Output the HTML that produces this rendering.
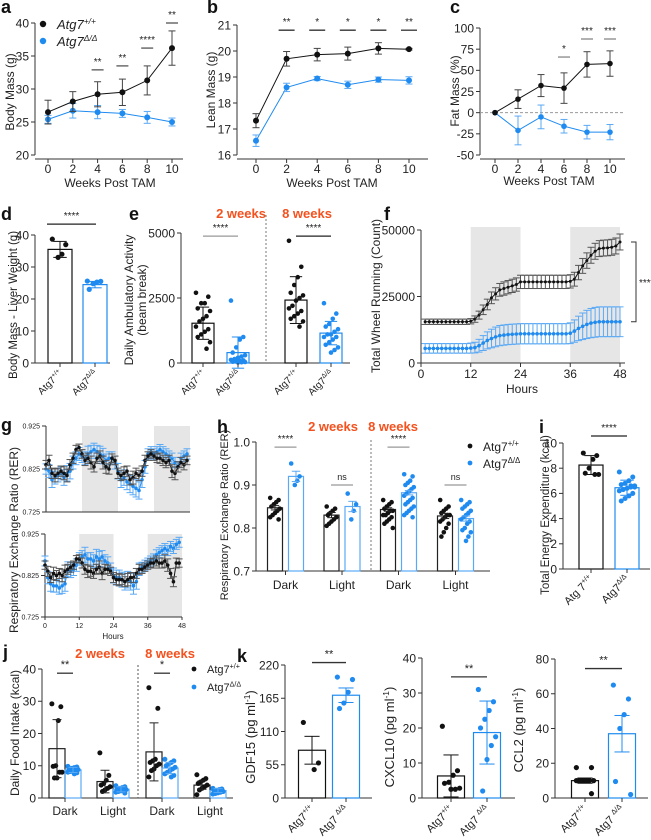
<!DOCTYPE html>
<html><head><meta charset="utf-8">
<style>
html,body{margin:0;padding:0;background:#fff;width:651px;height:840px;overflow:hidden}
svg{display:block;font-family:"Liberation Sans",Arial,sans-serif}
</style></head>
<body>
<svg id="fig" width="651" height="840" viewBox="0 0 651 840">
  <g font-weight="bold" font-size="18" fill="#111">
    <text x="1" y="13">a</text>
    <text x="207" y="13">b</text>
    <text x="450" y="13">c</text>
    <text x="1" y="220">d</text>
    <text x="129" y="220">e</text>
    <text x="384" y="220">f</text>
    <text x="1" y="431">g</text>
    <text x="217" y="433">h</text>
    <text x="539" y="433">i</text>
    <text x="3" y="658">j</text>
    <text x="237" y="662">k</text>
  </g>
  <g font-weight="bold" font-size="13" fill="#f4511e" text-anchor="middle">
    <text x="241" y="218">2 weeks</text>
    <text x="307" y="218">8 weeks</text>
    <text x="333" y="431">2 weeks</text>
    <text x="393" y="431">8 weeks</text>
    <text x="100" y="658">2 weeks</text>
    <text x="170" y="658">8 weeks</text>
  </g>
</svg>
<script>
// ===== DATA =====
const weeks = [0, 2, 4, 6, 8, 10];
const aWT = [26.5, 28.1, 29.2, 29.5, 31.3, 36.2];
const aWTerr = [1.8, 1.5, 1.9, 2.0, 2.2, 2.6];
const aKO = [25.4, 26.7, 26.5, 26.3, 25.7, 25.0];
const aKOerr = [0.6, 1.1, 1.0, 0.6, 0.9, 0.6];
const aSigWeeks = [4, 6, 8, 10];
const aSigLevel = [32.9, 33.5, 36.2, 40.0];
const aSigStars = ['**', '**', '****', '**'];
const aTicks = [20, 25, 30, 35, 40];
const bWT = [17.32, 19.7, 19.86, 19.9, 20.1, 20.07];
const bWTerr = [0.27, 0.28, 0.24, 0.25, 0.22, 0.03];
const bKO = [16.55, 18.6, 18.94, 18.7, 18.9, 18.87];
const bKOerr = [0.22, 0.16, 0.08, 0.14, 0.1, 0.14];
const bSigWeeks = [2, 4, 6, 8, 10];
const bSigStars = ['**', '*', '*', '*', '**'];
const bSigLevel = [20.8, 20.8, 20.8, 20.8, 20.8];
const bTicks = [16, 17, 18, 19, 20, 21];
const cWT = [0, 16, 32, 29, 57, 58];
const cWTerr = [0, 11, 13, 18, 15, 15];
const cKO = [0, -21, -5, -16, -23, -23];
const cKOerr = [0, 17, 14, 8, 8, 9];
const cSigWeeks = [6, 8, 10];
const cSigLevel = [65.7, 87, 87];
const cSigStars = ['*', '***', '***'];
const cTicks = [-50, -25, 0, 25, 50, 75, 100];
const dMeans = [35.5, 24.5];
const dErr = [2.5, 1.0];
const dDotsWT = [38.7, 37.0, 34.0, 33.0];
const dDotsKO = [25.6, 25.5, 25.3, 24.8, 23.0];
const dTicks = [0, 10, 20, 30, 40];
const eMeans = [1530, 400, 2420, 1150];
const eErr = [620, 600, 900, 450];
const eDotsWT2 = [2700, 2550, 2300, 2300, 2100, 2000, 1800, 1700, 1600, 1400, 1300, 1200, 1100, 1000, 800, 550];
const eDotsKO2 = [2400, 1000, 900, 600, 400, 300, 250, 200, 150, 120, 100, 80, 60, 50, 40, 30, 20];
const eDotsWT8 = [4700, 3700, 3300, 3000, 2700, 2600, 2500, 2400, 2200, 2100, 2000, 1900, 1800, 1700, 1600, 1400];
const eDotsKO8 = [2300, 1900, 1700, 1500, 1400, 1300, 1200, 1100, 1100, 1000, 1000, 900, 800, 700, 600, 500, 400];
const eTicks = [0, 2500, 5000];
const fHours = [1,2,3,4,5,6,7,8,9,10,11,12,13,14,15,16,17,18,19,20,21,22,23,24,25,26,27,28,29,30,31,32,33,34,35,36,37,38,39,40,41,42,43,44,45,46,47,48];
const fWT = [15500,15500,15500,15500,15500,15500,15500,15500,15500,15500,15500,15700,16500,18000,20000,22000,24500,26000,27500,28000,28500,29000,29500,30500,30500,30500,30500,30500,30500,30500,30500,30500,30500,30500,30500,30700,31500,34000,36500,38500,40500,42000,43000,43200,43300,43500,44000,45500];
const fWTerr = [1000,1000,1000,1000,1000,1000,1000,1000,1000,1000,1000,1000,1200,1500,1800,2000,2200,2300,2400,2500,2500,2500,2500,2500,2500,2500,2500,2500,2500,2500,2500,2500,2500,2500,2500,2500,2600,2700,2800,2900,3000,3000,3000,3000,3000,3000,3000,3000];
const fKO = [5500,5500,5500,5500,5500,5500,5500,5500,5500,5500,5500,5600,5800,6500,7500,8500,9200,9800,10300,10500,10700,10800,10900,11000,11000,11000,11000,11000,11000,11000,11000,11000,11000,11000,11000,11200,12000,13000,13800,14500,15000,15300,15500,15500,15500,15500,15500,15500];
const fKOerr = [1800,1800,1800,1800,1800,1800,1800,1800,1800,1800,1800,1900,2000,2400,2800,3200,3500,3700,3800,3800,3800,3800,3800,3800,3800,3800,3800,3800,3800,3800,3800,3800,3800,3800,3800,3900,4200,4600,5000,5300,5500,5600,5600,5600,5600,5600,5600,5600];
const fTicks = [0, 25000, 50000];
const fXTicks = [0, 12, 24, 36, 48];
const gHours = [0,1,2,3,4,5,6,7,8,9,10,11,12,13,14,15,16,17,18,19,20,21,22,23,24,25,26,27,28,29,30,31,32,33,34,35,36,37,38,39,40,41,42,43,44,45,46,47];
const gTopWT = [0.835,0.845,0.815,0.81,0.815,0.82,0.815,0.81,0.835,0.85,0.87,0.875,0.86,0.845,0.85,0.84,0.83,0.85,0.855,0.84,0.83,0.825,0.85,0.845,0.815,0.81,0.815,0.82,0.80,0.805,0.815,0.81,0.82,0.845,0.855,0.86,0.855,0.85,0.85,0.845,0.84,0.845,0.82,0.815,0.83,0.84,0.835,0.845];
const gTopKO = [0.825,0.82,0.80,0.805,0.81,0.815,0.805,0.815,0.82,0.84,0.85,0.86,0.855,0.85,0.86,0.865,0.87,0.865,0.86,0.855,0.845,0.85,0.85,0.84,0.82,0.80,0.805,0.795,0.79,0.785,0.78,0.775,0.80,0.83,0.86,0.865,0.86,0.865,0.87,0.865,0.86,0.855,0.85,0.84,0.83,0.85,0.855,0.86];
const gBotWT = [0.85,0.835,0.82,0.83,0.825,0.83,0.825,0.835,0.84,0.845,0.85,0.865,0.865,0.855,0.84,0.835,0.835,0.83,0.84,0.845,0.83,0.84,0.84,0.835,0.82,0.815,0.815,0.815,0.81,0.815,0.82,0.82,0.83,0.84,0.84,0.845,0.85,0.855,0.855,0.86,0.855,0.855,0.86,0.85,0.83,0.81,0.855,0.855];
const gBotKO = [0.86,0.82,0.805,0.80,0.80,0.795,0.80,0.805,0.84,0.835,0.84,0.85,0.865,0.87,0.875,0.865,0.865,0.86,0.87,0.865,0.87,0.86,0.855,0.84,0.825,0.82,0.82,0.815,0.81,0.815,0.81,0.80,0.81,0.84,0.845,0.85,0.855,0.86,0.865,0.875,0.88,0.885,0.89,0.885,0.895,0.89,0.9,0.905];
const gErrWT = [0.01,0.012,0.012,0.015,0.012,0.012,0.015,0.015,0.012,0.012,0.01,0.008,0.01,0.012,0.012,0.015,0.012,0.012,0.012,0.015,0.015,0.012,0.01,0.01,0.012,0.012,0.015,0.012,0.012,0.015,0.012,0.012,0.012,0.012,0.01,0.01,0.01,0.01,0.012,0.012,0.012,0.012,0.015,0.015,0.012,0.012,0.012,0.01];
const gErrKO = [0.012,0.015,0.018,0.015,0.015,0.015,0.018,0.018,0.018,0.015,0.015,0.015,0.015,0.015,0.018,0.015,0.015,0.015,0.018,0.018,0.015,0.015,0.015,0.015,0.018,0.018,0.018,0.018,0.02,0.02,0.02,0.02,0.018,0.015,0.012,0.012,0.012,0.012,0.012,0.012,0.012,0.012,0.012,0.012,0.012,0.012,0.012,0.012];
const gTicks = [0.725, 0.825, 0.925];
const gXTicks = [0, 12, 24, 36, 48];
const hCats = ['Dark', 'Light', 'Dark', 'Light'];
const hMeans = [0.847, 0.92, 0.83, 0.85, 0.843, 0.882, 0.828, 0.822];
const hErr = [0.005, 0.012, 0.006, 0.012, 0.004, 0.005, 0.006, 0.006];
const hDots = [
  [0.87,0.865,0.86,0.855,0.85,0.845,0.84,0.835,0.83,0.825,0.82],
  [0.95,0.92,0.91,0.90],
  [0.85,0.845,0.84,0.835,0.83,0.825,0.82,0.815,0.81,0.805],
  [0.88,0.855,0.84,0.82],
  [0.865,0.86,0.855,0.85,0.845,0.84,0.84,0.835,0.83,0.83,0.825,0.82,0.815,0.81,0.80],
  [0.925,0.92,0.91,0.905,0.90,0.895,0.89,0.885,0.88,0.875,0.87,0.865,0.86,0.855,0.85,0.845,0.84,0.835,0.83,0.825],
  [0.865,0.85,0.845,0.84,0.835,0.83,0.83,0.825,0.82,0.815,0.81,0.80,0.79,0.78],
  [0.865,0.86,0.855,0.85,0.845,0.84,0.835,0.83,0.825,0.82,0.815,0.81,0.80,0.795,0.79,0.78,0.77]
];
const hSigLevel = [0.988, 0.90, 0.988, 0.90];
const hSigText = ['****', 'ns', '****', 'ns'];
const hTicks = [0.7, 0.8, 0.9, 1.0];
const iMeans = [8.25, 6.45];
const iErr = [0.75, 0.6];
const iDotsWT = [9.2, 9.0, 8.7, 8.0, 7.6, 7.5, 7.5];
const iDotsKO = [7.7, 7.3, 7.0, 6.8, 6.7, 6.6, 6.5, 6.4, 6.3, 6.2, 6.0, 5.8, 5.6, 5.4, 6.5, 6.6];
const iTicks = [0, 2, 4, 6, 8, 10];
const jCats = ['Dark', 'Light', 'Dark', 'Light'];
const jMeans = [15.3, 8.7, 5.1, 2.7, 14.3, 9.3, 4.0, 2.3];
const jErr = [9, 0.8, 3.5, 0.8, 9, 1.7, 1.3, 0.6];
const jDots = [
  [29.2,28.3,24,10,9.8,8,8,6.2,6.2],
  [9.8,9.6,9.4,9.2,9,8.8,8.6,8.4,8.2,8,7.8,7.5],
  [14,7,5.5,4.5,4,3.5,3,2.5,2],
  [3.8,3.5,3.2,3,2.8,2.6,2.4,2.2,2,1.8,1.5],
  [34.2,27.8,12,11.5,11,10.5,10,9,8.5,6.5],
  [12,11.5,11,10.5,10,9.5,9,8.5,8,7.5,7,6.5],
  [7.2,6,5.5,5,4.5,4,3.5,3,2.5,1],
  [3,2.8,2.6,2.4,2.2,2,1.8,1.6,1.4,1.2]
];
const jSigLevel = [38.7, 38.7];
const jSigText = ['**', '*'];
const jTicks = [0, 10, 20, 30, 40];
const kGdfMeans = [79, 170];
const kGdfErr = [23, 12];
const kGdfDotsWT = [125, 58, 47];
const kGdfDotsKO = [200, 196, 175, 157, 148];
const kGdfTicks = [0, 55, 110, 165, 220];
const kCxMeans = [6.3, 18.7];
const kCxErr = [6, 9];
const kCxDotsWT = [20.5, 7.8, 6.5, 4.5, 4.2, 2.8, 2.5, 2.5];
const kCxDotsKO = [31, 27.5, 25, 22.5, 20, 17.5, 15, 11, 2];
const kCxTicks = [0, 10, 20, 30, 40];
const kCcMeans = [10, 37];
const kCcErr = [1.5, 10.5];
const kCcDotsWT = [17.5, 17.5, 10, 10, 10, 10, 10, 10, 10, 10, 2.5];
const kCcDotsKO = [65, 57, 48, 40, 9.5, 2];
const kCcTicks = [0, 20, 40, 60, 80];

// ===== HELPERS =====
const NS = 'http://www.w3.org/2000/svg';
const fig = document.getElementById('fig');
const BLK = '#111', BLU = '#1f8bf0', LBLU = '#5aa9f5', AX = '#333';
function el(tag, a, name, parent) {
  const e = document.createElementNS(NS, tag);
  for (const k in a) e.setAttribute(k, a[k]);
  
  
  (parent || fig).appendChild(e);
  return e;
}
function line(x1, y1, x2, y2, c, w, name, extra) {
  const a = {x1: x1, y1: y1, x2: x2, y2: y2, stroke: c, 'stroke-width': w};
  Object.assign(a, extra || {});
  return el('line', a, name);
}
function text(x, y, s, size, anchor, name, opt) {
  opt = opt || {};
  const a = {x: x, y: y, 'font-size': size, 'text-anchor': anchor || 'start', fill: opt.fill || '#222'};
  if (opt.rot != null) a.transform = 'rotate(' + opt.rot + ' ' + x + ' ' + y + ')';
  if (opt.italic) a['font-style'] = 'italic';
  const t = el('text', a, name);
  t.appendChild(document.createTextNode(s));
  if (opt.sup) {
    const sp = document.createElementNS(NS, 'tspan');
    sp.setAttribute('dy', -size * 0.4);
    sp.setAttribute('font-size', size * 0.65);
    sp.textContent = opt.sup;
    t.appendChild(sp);
  }
  if (opt.after) {
    const sp2 = document.createElementNS(NS, 'tspan');
    sp2.setAttribute('dy', size * 0.4);
    sp2.textContent = opt.after;
    t.appendChild(sp2);
  }
  return t;
}
function lin(d0, d1, r0, r1) { return function (v) { return r0 + (v - d0) * (r1 - r0) / (d1 - d0); }; }
function yAxis(x, sc, ticks, size, name, fmt) {
  line(x, sc(ticks[0]), x, sc(ticks[ticks.length - 1]), AX, 1, name + '-line');
  ticks.forEach(function (t) {
    line(x - 4, sc(t), x, sc(t), AX, 1, name + '-tick');
    text(x - 6, sc(t) + size * 0.36, fmt ? fmt(t) : String(t), size, 'end', name + '-label');
  });
}
function xAxisLine(y, x0, x1, name) { line(x0, y, x1, y, AX, 1, name); }
function errbar(x, y1, y2, cap, c, name) {
  line(x, y1, x, y2, c, 1, name);
  line(x - cap, y1, x + cap, y1, c, 1, name + '-cap');
  line(x - cap, y2, x + cap, y2, c, 1, name + '-cap');
}
function dot(x, y, r, c, name) { return el('circle', {cx: x, cy: y, r: r, fill: c}, name); }
function sig(x1, x2, y, label, size, name, c) {
  line(x1, y, x2, y, c || '#555', 1.3, name + '-bar');
  text((x1 + x2) / 2, y - 5, label, size, 'middle', name + '-label');
}
function yTitle(x, y, s, size, name, opt) {
  opt = opt || {};
  opt.rot = -90;
  return text(x, y, s, size, 'middle', name, opt);
}
function rotLabel(x, y, base, sup, size, name) {
  return text(x, y, base, size, 'end', name, {rot: -45, sup: sup});
}
function linePanel(sx, sy, xs, vals, errs, c, ec, name, r) {
  const d = xs.map(function (x, i) { return (i ? 'L' : 'M') + sx(x).toFixed(1) + ' ' + sy(vals[i]).toFixed(1); }).join(' ');
  el('path', {d: d, fill: 'none', stroke: c, 'stroke-width': 1}, name + '-line');
  xs.forEach(function (x, i) {
    if (errs[i] > 0) errbar(sx(x), sy(vals[i] - errs[i]), sy(vals[i] + errs[i]), 3.5, ec, name + '-error');
    dot(sx(x), sy(vals[i]), r, c, name + '-point');
  });
}
function jit(i, w) { return (((i * 7) % 9) - 4) / 4 * w * 0.32; }
function barGroup(cx, w, sy, mean, err, dots, c, dc, name, r) {
  el('rect', {x: cx - w / 2, y: sy(mean), width: w, height: sy(sy.base) - sy(mean), fill: 'none', stroke: c, 'stroke-width': 1.2}, name + '-bar');
  dots.forEach(function (v, i) { dot(cx + jit(i, w), sy(v), r, dc, name + '-dot'); });
  errbar(cx, sy(mean - err), sy(mean + err), w * 0.28, c, name + '-error');
}
function mkScale(d0, d1, r0, r1) { const f = lin(d0, d1, r0, r1); f.base = d0; return f; }

// ===== PANEL A =====
(function () {
  const sx = lin(0, 10, 48, 172), sy = mkScale(20, 40, 155, 23);
  yAxis(35, sy, aTicks, 12, 'a-y-axis');
  xAxisLine(159, 35, 183, 'a-x-axis');
  weeks.forEach(function (w) { line(sx(w), 159, sx(w), 163, AX, 1, 'a-x-tick'); text(sx(w), 173, String(w), 12, 'middle', 'a-x-label'); });
  text(110, 187, 'Weeks Post TAM', 12, 'middle', 'a-x-title');
  yTitle(14, 92, 'Body Mass (g)', 12, 'a-y-title');
  linePanel(sx, sy, weeks, aKO, aKOerr, BLU, LBLU, 'a-ko', 3);
  linePanel(sx, sy, weeks, aWT, aWTerr, BLK, '#444', 'a-wt', 3);
  aSigWeeks.forEach(function (w, i) { sig(sx(w) - 6, sx(w) + 6, sy(aSigLevel[i]), aSigStars[i], 10, 'a-sig'); });
  dot(43, 24, 3.2, BLK, 'a-legend-wt-marker');
  text(57, 29, 'Atg7', 13, 'start', 'a-legend-wt', {italic: true, sup: '+/+'});
  dot(43, 41, 3.2, BLU, 'a-legend-ko-marker');
  text(57, 46, 'Atg7', 13, 'start', 'a-legend-ko', {italic: true, sup: 'Δ/Δ'});
})();
// ===== PANEL B =====
(function () {
  const sx = lin(0, 10, 256, 409), sy = mkScale(16, 21, 155, 25);
  yAxis(237, sy, bTicks, 12, 'b-y-axis');
  xAxisLine(159, 237, 428, 'b-x-axis');
  weeks.forEach(function (w) { line(sx(w), 159, sx(w), 163, AX, 1, 'b-x-tick'); text(sx(w), 173, String(w), 12, 'middle', 'b-x-label'); });
  text(332, 187, 'Weeks Post TAM', 12, 'middle', 'b-x-title');
  yTitle(215, 90, 'Lean Mass  (g)', 12, 'b-y-title');
  linePanel(sx, sy, weeks, bKO, bKOerr, BLU, LBLU, 'b-ko', 3);
  linePanel(sx, sy, weeks, bWT, bWTerr, BLK, '#444', 'b-wt', 3);
  bSigWeeks.forEach(function (w, i) { sig(sx(w) - 8, sx(w) + 8, sy(bSigLevel[i]), bSigStars[i], 10, 'b-sig', '#333'); });
})();
// ===== PANEL C =====
(function () {
  const sx = lin(0, 10, 495, 610), sy = mkScale(-50, 100, 155, 28);
  yAxis(480, sy, cTicks, 12, 'c-y-axis');
  xAxisLine(159, 480, 625, 'c-x-axis');
  line(480, sy(0), 625, sy(0), '#999', 1, 'c-zero-line', {'stroke-dasharray': '3 2'});
  weeks.forEach(function (w) { line(sx(w), 159, sx(w), 163, AX, 1, 'c-x-tick'); text(sx(w), 173, String(w), 12, 'middle', 'c-x-label'); });
  text(549, 185, 'Weeks Post TAM', 12, 'middle', 'c-x-title');
  yTitle(459, 91, 'Fat Mass (%)', 12, 'c-y-title');
  linePanel(sx, sy, weeks, cKO, cKOerr, BLU, LBLU, 'c-ko', 2.8);
  linePanel(sx, sy, weeks, cWT, cWTerr, BLK, '#444', 'c-wt', 2.8);
  cSigWeeks.forEach(function (w, i) { sig(sx(w) - 6, sx(w) + 6, sy(cSigLevel[i]), cSigStars[i], 10, 'c-sig', '#888'); });
})();
// ===== PANEL D =====
(function () {
  const sy = mkScale(0, 40, 363, 235);
  yAxis(35, sy, dTicks, 12, 'd-y-axis');
  xAxisLine(363, 35, 110, 'd-x-axis');
  yTitle(17, 305, 'Body Mass - Liver Weight (g)', 11.5, 'd-y-title');
  barGroup(60, 24, sy, dMeans[0], dErr[0], dDotsWT, BLK, BLK, 'd-wt', 2.6);
  barGroup(95, 24, sy, dMeans[1], dErr[1], dDotsKO, BLU, BLU, 'd-ko', 2.6);
  [60, 95].forEach(function (x) { line(x, 363, x, 367, AX, 1, 'd-x-tick'); });
  rotLabel(63, 374, 'Atg7', '+/+', 10, 'd-x-label-wt');
  rotLabel(98, 374, 'Atg7', 'Δ/Δ', 10, 'd-x-label-ko');
  sig(47, 96, sy(43.4), '****', 10, 'd-sig', '#222');
})();
// ===== PANEL E =====
(function () {
  const sy = mkScale(0, 5000, 363, 233);
  yAxis(181, sy, eTicks, 12, 'e-y-axis');
  xAxisLine(363, 181, 350, 'e-x-axis');
  line(266, 215, 266, 363, '#777', 1, 'e-divider', {'stroke-dasharray': '2 2'});
  yTitle(133, 300, 'Daily Ambulatory Activity', 12, 'e-y-title');
  yTitle(146, 300, '(beam break)', 12, 'e-y-subtitle');
  const cx = [203, 238, 296, 331], dots = [eDotsWT2, eDotsKO2, eDotsWT8, eDotsKO8];
  eMeans.forEach(function (m, i) {
    const c = i % 2 ? BLU : BLK;
    barGroup(cx[i], 22, sy, m, eErr[i], dots[i], c, c, 'e-bar-' + i, 2.3);
    line(cx[i], 363, cx[i], 367, AX, 1, 'e-x-tick');
    rotLabel(cx[i] + 3, 374, 'Atg7', i % 2 ? 'Δ/Δ' : '+/+', 10, 'e-x-label');
  });
  sig(203, 238, sy(4880), '****', 10, 'e-sig-2wk', '#999');
  sig(296, 331, sy(4880), '****', 10, 'e-sig-8wk', '#222');
})();
// ===== PANEL F =====
(function () {
  const sx = lin(0, 48, 421, 620), sy = mkScale(0, 50000, 363, 230);
  el('rect', {x: sx(12), y: 227, width: sx(24) - sx(12), height: 363 - 227, fill: '#e6e6e6'}, 'f-dark-band-1');
  el('rect', {x: sx(36), y: 227, width: sx(48) - sx(36), height: 363 - 227, fill: '#e6e6e6'}, 'f-dark-band-2');
  yAxis(421, sy, fTicks, 12, 'f-y-axis');
  xAxisLine(363, 421, 625, 'f-x-axis');
  fXTicks.forEach(function (h) { line(sx(h), 363, sx(h), 367, AX, 1, 'f-x-tick'); text(sx(h), 378, String(h), 12, 'middle', 'f-x-label'); });
  text(522, 393, 'Hours', 12, 'middle', 'f-x-title');
  yTitle(380, 296, 'Total Wheel Running (Count)', 12, 'f-y-title');
  linePanel(sx, sy, fHours, fKO, fKOerr, BLU, LBLU, 'f-ko', 1.8);
  linePanel(sx, sy, fHours, fWT, fWTerr, BLK, '#555', 'f-wt', 1.5);
  const yt = sy(fWT[fWT.length - 1]), yb = sy(fKO[fKO.length - 1]);
  el('path', {d: 'M631 ' + yt + ' H636 V' + yb + ' H631', fill: 'none', stroke: '#333', 'stroke-width': 1}, 'f-sig-bracket');
  text(639, (yt + yb) / 2 + 4, '****', 10, 'start', 'f-sig-label');
})();
// ===== PANEL G =====
(function () {
  const parts = [
    {sx: lin(0, 48, 46, 190), sy: mkScale(0.725, 0.925, 512, 426), top: 426, bot: 512, wt: gTopWT, ko: gTopKO, n: 'g-top'},
    {sx: lin(0, 48, 45, 182), sy: mkScale(0.725, 0.925, 617, 534), top: 534, bot: 617, wt: gBotWT, ko: gBotKO, n: 'g-bottom'}
  ];
  parts.forEach(function (p) {
    el('rect', {x: p.sx(12), y: p.top, width: p.sx(24) - p.sx(12), height: p.bot - p.top, fill: '#e6e6e6'}, p.n + '-dark-band-1');
    el('rect', {x: p.sx(36), y: p.top, width: p.sx(48) - p.sx(36), height: p.bot - p.top, fill: '#e6e6e6'}, p.n + '-dark-band-2');
    yAxis(p.sx(0), p.sy, gTicks, 7, p.n + '-y-axis', function (t) { return t.toFixed(3); });
    xAxisLine(p.bot, p.sx(0), p.sx(48), p.n + '-x-axis');
    linePanel(p.sx, p.sy, gHours, p.ko, gErrKO, BLU, LBLU, p.n + '-ko', 1.8);
    linePanel(p.sx, p.sy, gHours, p.wt, gErrWT, BLK, '#555', p.n + '-wt', 1.8);
  });
  const sx = parts[1].sx;
  gXTicks.forEach(function (h) { line(sx(h), 617, sx(h), 620, AX, 1, 'g-x-tick'); text(sx(h), 628, String(h), 7, 'middle', 'g-x-label'); });
  text(113, 639, 'Hours', 8, 'middle', 'g-x-title');
  yTitle(18, 540, 'Respiratory Exchange Ratio (RER)', 12, 'g-y-title');
})();
// ===== PANEL H =====
(function () {
  const sy = mkScale(0.7, 1.0, 571, 442);
  yAxis(256, sy, hTicks, 12, 'h-y-axis', function (t) { return t.toFixed(1); });
  xAxisLine(571, 256, 490, 'h-x-axis');
  line(371, 440, 371, 571, '#777', 1, 'h-divider', {'stroke-dasharray': '2 2'});
  yTitle(228, 515, 'Respiratory Exchange Ratio (RER)', 11, 'h-y-title');
  const gc = [285.5, 342, 398.5, 455.5];
  hMeans.forEach(function (m, i) {
    const cx = gc[Math.floor(i / 2)] + (i % 2 ? 10.5 : -10.5);
    const c = i % 2 ? BLU : BLK;
    barGroup(cx, 15, sy, m, hErr[i], hDots[i], i % 2 ? LBLU : '#222', c, 'h-bar-' + i, 2.3);
  });
  hCats.forEach(function (c, i) { line(gc[i], 571, gc[i], 575, AX, 1, 'h-x-tick'); text(gc[i], 589, c, 12, 'middle', 'h-x-label'); });
  hSigText.forEach(function (s, i) { sig(gc[i] - 11, gc[i] + 11, sy(hSigLevel[i]), s, s === 'ns' ? 9 : 10, 'h-sig', '#999'); });
  dot(470, 446, 2.4, BLK, 'h-legend-wt-marker');
  text(483, 451, 'Atg7', 12, 'start', 'h-legend-wt', {sup: '+/+'});
  dot(470, 463, 2.4, BLU, 'h-legend-ko-marker');
  text(483, 468, 'Atg7', 12, 'start', 'h-legend-ko', {sup: 'Δ/Δ'});
})();
// ===== PANEL I =====
(function () {
  const sy = mkScale(0, 10, 569, 443);
  yAxis(563, sy, iTicks, 12, 'i-y-axis');
  xAxisLine(569, 563, 650, 'i-x-axis');
  yTitle(549, 515, 'Total Energy Expenditure (kcal)', 11.5, 'i-y-title');
  barGroup(591, 24, sy, iMeans[0], iErr[0], iDotsWT, BLK, BLK, 'i-wt', 2.5);
  barGroup(627, 24, sy, iMeans[1], iErr[1], iDotsKO, BLU, BLU, 'i-ko', 2.5);
  [591, 627].forEach(function (x) { line(x, 569, x, 573, AX, 1, 'i-x-tick'); });
  rotLabel(594, 580, 'Atg 7', '+/+', 11, 'i-x-label-wt');
  rotLabel(630, 580, 'Atg7', 'Δ/Δ', 11, 'i-x-label-ko');
  sig(591, 627, 436, '****', 10, 'i-sig', '#222');
})();
// ===== PANEL J =====
(function () {
  const sy = mkScale(0, 40, 798, 669);
  yAxis(42, sy, jTicks, 12, 'j-y-axis');
  xAxisLine(798, 42, 233, 'j-x-axis');
  line(138, 665, 138, 798, '#555', 1, 'j-divider', {'stroke-dasharray': '2 2'});
  yTitle(19, 733, 'Daily Food Intake (kcal)', 12, 'j-y-title');
  const gc = [65, 113, 162, 210];
  jMeans.forEach(function (m, i) {
    const cx = gc[Math.floor(i / 2)] + (i % 2 ? 8 : -8);
    const c = i % 2 ? BLU : BLK;
    barGroup(cx, 16, sy, m, jErr[i], jDots[i], i % 2 ? LBLU : '#222', c, 'j-bar-' + i, 2.5);
  });
  jCats.forEach(function (c, i) { line(gc[i], 798, gc[i], 802, AX, 1, 'j-x-tick'); text(gc[i], 815, c, 12, 'middle', 'j-x-label'); });
  sig(57, 73, sy(jSigLevel[0]), jSigText[0], 11, 'j-sig-2wk', '#333');
  sig(154, 170, sy(jSigLevel[1]), jSigText[1], 11, 'j-sig-8wk', '#333');
  dot(194, 669, 2.4, BLK, 'j-legend-wt-marker');
  text(207, 673, 'Atg7', 11, 'start', 'j-legend-wt', {sup: '+/+'});
  dot(194, 687, 2.4, BLU, 'j-legend-ko-marker');
  text(207, 691, 'Atg7', 11, 'start', 'j-legend-ko', {sup: 'Δ/Δ'});
})();
// ===== PANEL K =====
(function () {
  const ks = [
    {ax: 285, x1: 312, x2: 346, sy: mkScale(0, 220, 798, 665), ticks: kGdfTicks, means: kGdfMeans, err: kGdfErr, wt: kGdfDotsWT, ko: kGdfDotsKO, sigv: 224, title: 'GDF15 (pg ml', tx: 255, ty: 737, end: 372, n: 'k-gdf15'},
    {ax: 422, x1: 451, x2: 487, sy: mkScale(0, 40, 798, 658), ticks: kCxTicks, means: kCxMeans, err: kCxErr, wt: kCxDotsWT, ko: kCxDotsKO, sigv: 34.6, title: 'CXCL10 (pg ml', tx: 394, ty: 737, end: 515, n: 'k-cxcl10'},
    {ax: 555, x1: 585, x2: 622, sy: mkScale(0, 80, 798, 659), ticks: kCcTicks, means: kCcMeans, err: kCcErr, wt: kCcDotsWT, ko: kCcDotsKO, sigv: 74.5, title: 'CCL2 (pg ml', tx: 523, ty: 730, end: 648, n: 'k-ccl2'}
  ];
  ks.forEach(function (k) {
    yAxis(k.ax, k.sy, k.ticks, 12, k.n + '-y-axis');
    xAxisLine(798, k.ax, k.end, k.n + '-x-axis');
    yTitle(k.tx, k.ty, k.title, 13, k.n + '-y-title', {sup: '-1', after: ')'});
    barGroup(k.x1, 27, k.sy, k.means[0], k.err[0], k.wt, BLK, BLK, k.n + '-wt', 2.6);
    barGroup(k.x2, 27, k.sy, k.means[1], k.err[1], k.ko, BLU, BLU, k.n + '-ko', 2.6);
    [k.x1, k.x2].forEach(function (x) { line(x, 798, x, 802, AX, 1, k.n + '-x-tick'); });
    rotLabel(k.x1 + 3, 810, 'Atg7', '+/+', 11, k.n + '-x-label-wt');
    rotLabel(k.x2 + 3, 810, 'Atg7 ', 'Δ/Δ', 11, k.n + '-x-label-ko');
    sig(k.x1, k.x2, k.sy(k.sigv), '**', 11, k.n + '-sig', '#333');
  });
})();
</script>
</body></html>
